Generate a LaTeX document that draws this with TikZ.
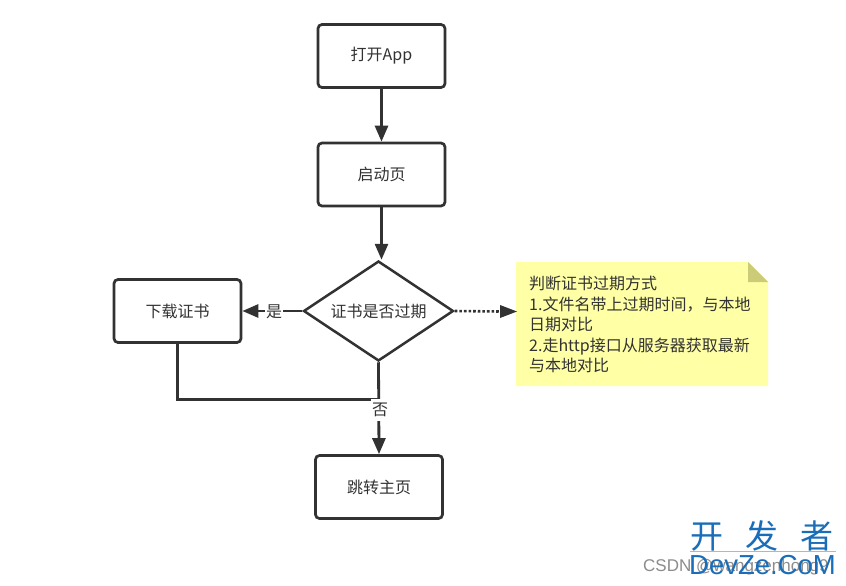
\documentclass[tikz,border=0pt]{standalone}
\usepackage{fontspec}
\setmainfont{Noto Sans CJK SC}
\setsansfont{Liberation Sans}
\usetikzlibrary{arrows.meta,shapes.geometric}
\definecolor{ink}{HTML}{323232}
\definecolor{notey}{HTML}{FFFFA6}
\definecolor{notefold}{HTML}{CCCC78}
\definecolor{logoblue}{HTML}{1A6DB8}
\tikzset{
  x=1pt,y=-1pt,
  flowbox/.style={draw=ink,line width=2.7pt,rounded corners=4pt,fill=white,text=ink,font=\fontsize{16}{18}\selectfont,inner sep=0pt,minimum width=127pt,minimum height=63pt},
  decision/.style={draw=ink,line width=2.5pt,diamond,aspect=1.5,fill=white,text=ink,font=\fontsize{16}{18}\selectfont,inner sep=0pt,minimum width=150pt,minimum height=100pt},
  flow/.style={draw=ink,line width=2.8pt,-{Triangle[length=16pt,width=13pt]}},
  plainflow/.style={draw=ink,line width=2.8pt},
  dotflow/.style={draw=ink,line width=2.6pt,dotted,line cap=butt},
  edgelabel/.style={fill=white,text=ink,font=\fontsize{16}{18}\selectfont,inner sep=0pt,minimum width=18pt,minimum height=22pt},
  notetext/.style={text=ink,font=\fontsize{16}{20.5}\selectfont,align=left,anchor=north west,inner sep=0pt,text width=235pt},
}
\begin{document}
\begin{tikzpicture}
\useasboundingbox (0,0) rectangle (846,586);
\fill[white] (0,0) rectangle (846,586);
\node[flowbox] (app) at (381.5,56) {打开App};
\node[flowbox] (start) at (381.5,174.5) {启动页};
\node[decision] (check) at (378.5,311) {证书是否过期};
\node[flowbox] (dl) at (177.5,311) {下载证书};
\node[flowbox] (home) at (379,487) {跳转主页};
% note
\fill[notey] (516,262) -- (748,262) -- (768,282) -- (768,386) -- (516,386) -- cycle;
\fill[notefold] (748,262) -- (768,282) -- (748,282) -- cycle;
\node[notetext] (note) at (529,276) {判断证书过期方式\\1.文件名带上过期时间，与本地\\日期对比\\2.走http接口从服务器获取最新\\与本地对比};
\coordinate (noteleft) at (517,311.5);
\coordinate (dotend) at (500,311.5);
\coordinate (merge) at (379,399.5);
% connectors
\draw[flow] (app.south) -- (start.north);
\draw[flow] (start.south) -- (start.south |- check.north);
\draw[flow] (check.west) -- (dl.east);
\node[edgelabel,minimum height=20pt] (yes) at (274,312) {是};
\draw[plainflow,rounded corners=0pt] (dl.south) -- (dl.south |- merge) -- (merge);
\draw[flow] (check.south) -- (home.north);
\node[edgelabel,minimum height=22pt] (no) at (380,409.5) {否};
\draw[dotflow] (check.east) -- (dotend);
\draw[draw=none,fill=ink] (dotend) -- ++(0,-6.5) -- (noteleft) -- (500,318) -- cycle;
% watermark
\node[text=black!45,font=\sffamily\fontsize{17}{20}\selectfont,anchor=west,inner sep=0pt] (csdn) at (643,567) {CSDN @wangzenhong9};
\node[text=logoblue,font=\fontsize{33}{36}\selectfont,inner sep=0pt] (kf) at (762,536) {开\hspace{22pt}发\hspace{22pt}者};
\draw[logoblue!45,line width=.6pt] (690,551.5) -- (836,551.5);
\node[text=logoblue,font=\sffamily\fontsize{27.5}{30}\selectfont,inner sep=0pt] (dz) at (762.5,565) {DevZe.CoM};
\end{tikzpicture}
\end{document}
